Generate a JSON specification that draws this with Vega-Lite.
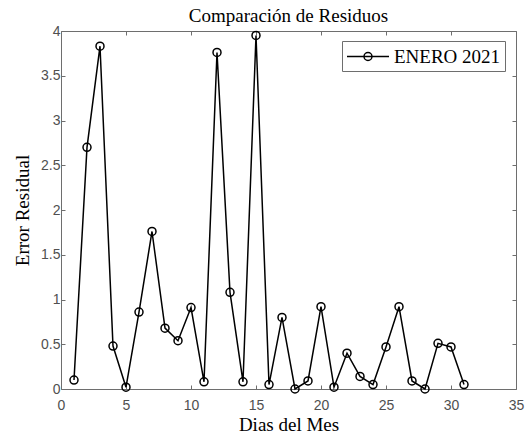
{
  "$schema": "https://vega.github.io/schema/vega-lite/v6.json",
  "width": 455,
  "height": 358,
  "autosize": "none",
  "padding": {"left": 61, "top": 31, "right": 14, "bottom": 45},
  "background": "white",
  "config": {"view": {"stroke": null}},
  "title": {
    "text": "Comparación de Residuos",
    "font": "Liberation Serif",
    "fontSize": 19,
    "fontWeight": "normal",
    "color": "#000000",
    "anchor": "middle",
    "offset": -2
  },
  "data": {
    "values": [
      {"dia": 1, "error": 0.10},
      {"dia": 2, "error": 2.70},
      {"dia": 3, "error": 3.83},
      {"dia": 4, "error": 0.48},
      {"dia": 5, "error": 0.02},
      {"dia": 6, "error": 0.86},
      {"dia": 7, "error": 1.76},
      {"dia": 8, "error": 0.68},
      {"dia": 9, "error": 0.54},
      {"dia": 10, "error": 0.91},
      {"dia": 11, "error": 0.08},
      {"dia": 12, "error": 3.76},
      {"dia": 13, "error": 1.08},
      {"dia": 14, "error": 0.08},
      {"dia": 15, "error": 3.95},
      {"dia": 16, "error": 0.05},
      {"dia": 17, "error": 0.80},
      {"dia": 18, "error": 0.00},
      {"dia": 19, "error": 0.09},
      {"dia": 20, "error": 0.92},
      {"dia": 21, "error": 0.02},
      {"dia": 22, "error": 0.40},
      {"dia": 23, "error": 0.14},
      {"dia": 24, "error": 0.05},
      {"dia": 25, "error": 0.47},
      {"dia": 26, "error": 0.92},
      {"dia": 27, "error": 0.09},
      {"dia": 28, "error": 0.00},
      {"dia": 29, "error": 0.51},
      {"dia": 30, "error": 0.47},
      {"dia": 31, "error": 0.05}
    ]
  },
  "resolve": {"axis": {"x": "independent", "y": "independent"}},
  "layer": [
    {
      "mark": {"type": "line", "strokeWidth": 1.5, "color": "#000000", "clip": false},
      "encoding": {
        "x": {
          "field": "dia", "type": "quantitative",
          "scale": {"domain": [0, 35], "nice": false, "zero": false},
          "axis": {
            "orient": "bottom", "values": [0, 5, 10, 15, 20, 25, 30, 35],
            "title": "Dias del Mes", "titleFont": "Liberation Serif", "titleFontSize": 19,
            "titleFontWeight": "normal", "titleColor": "#000000",
            "titleBaseline": "alphabetic", "titleY": 41, "titleX": 227.5,
            "labelFont": "Liberation Sans", "labelFontSize": 14, "labelColor": "#505050",
            "labelPadding": 13, "labelFlush": false,
            "tickSize": -4, "tickColor": "#6e6e6e", "domainColor": "#6e6e6e",
            "grid": false
          }
        },
        "y": {
          "field": "error", "type": "quantitative",
          "scale": {"domain": [0, 4], "nice": false},
          "axis": {
            "orient": "left", "values": [0, 0.5, 1, 1.5, 2, 2.5, 3, 3.5, 4], "format": "~g",
            "title": "Error Residual", "titleFont": "Liberation Serif", "titleFontSize": 19,
            "titleFontWeight": "normal", "titleColor": "#000000",
            "titleBaseline": "alphabetic", "titleX": -33, "titleY": 179, "titleAngle": -90,
            "labelFont": "Liberation Sans", "labelFontSize": 14, "labelColor": "#505050",
            "labelPadding": 5, "labelFlush": false,
            "tickSize": -4, "tickColor": "#6e6e6e", "domainColor": "#6e6e6e",
            "grid": false
          }
        },
        "color": {
          "datum": "ENERO 2021",
          "scale": {"range": ["#000000"]},
          "legend": {
            "title": null,
            "orient": "none", "legendX": 281, "legendY": 10,
            "symbolType": "M-1,0H3M1.38,0A0.38,0.38,0,1,1,0.62,0A0.38,0.38,0,1,1,1.38,0",
            "symbolSize": 441, "symbolStrokeWidth": 1.5, "symbolFillColor": "transparent",
            "symbolStrokeColor": "#000000",
            "labelFont": "Liberation Serif", "labelFontSize": 19, "labelColor": "#000000",
            "labelOffset": 25,
            "strokeColor": "#6e6e6e", "padding": 4, "fillColor": "white"
          }
        }
      }
    },
    {
      "mark": {"type": "point", "shape": "circle", "filled": false, "size": 64, "strokeWidth": 1.5, "color": "#000000", "opacity": 1, "clip": false},
      "encoding": {
        "x": {
          "field": "dia", "type": "quantitative",
          "scale": {"domain": [0, 35], "nice": false, "zero": false},
          "axis": {
            "orient": "top", "values": [0, 5, 10, 15, 20, 25, 30, 35],
            "title": null, "labels": false,
            "tickSize": -4, "tickColor": "#6e6e6e", "domainColor": "#6e6e6e", "grid": false
          }
        },
        "y": {
          "field": "error", "type": "quantitative",
          "scale": {"domain": [0, 4], "nice": false},
          "axis": {
            "orient": "right", "values": [0, 0.5, 1, 1.5, 2, 2.5, 3, 3.5, 4],
            "title": null, "labels": false,
            "tickSize": -4, "tickColor": "#6e6e6e", "domainColor": "#6e6e6e", "grid": false
          }
        }
      }
    }
  ]
}
